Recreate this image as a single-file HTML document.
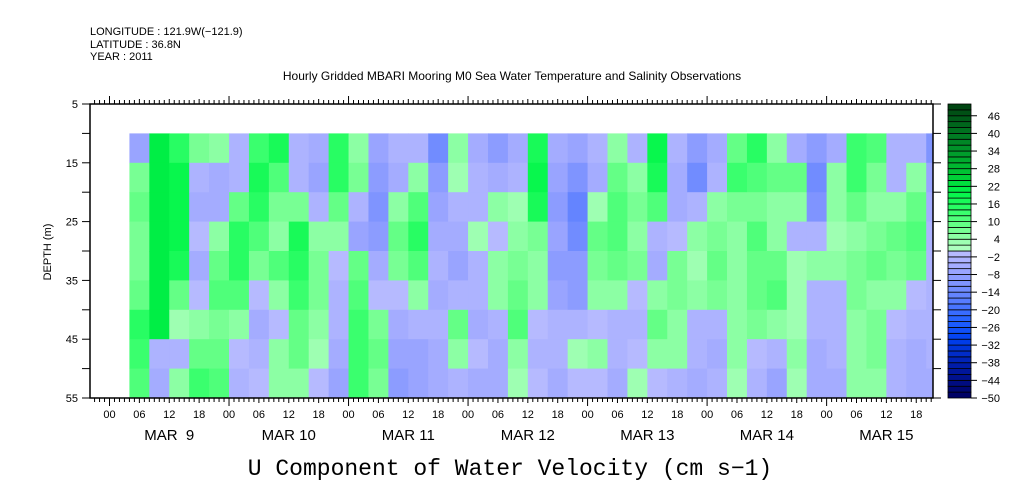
<!DOCTYPE html>
<html><head><meta charset="utf-8"><style>
body{margin:0;background:#fff;}
svg{display:block;font-family:"Liberation Sans",sans-serif;}
</style></head><body>
<svg id="chart" width="1009" height="504" viewBox="0 0 1009 504">
<text x="90" y="35" font-size="11">LONGITUDE : 121.9W(−121.9)</text>
<text x="90" y="48" font-size="11">LATITUDE : 36.8N</text>
<text x="90" y="60" font-size="11">YEAR : 2011</text>
<text x="512" y="80" font-size="12" text-anchor="middle">Hourly Gridded MBARI Mooring M0 Sea Water Temperature and Salinity Observations</text>
<text x="510" y="475" font-size="23" text-anchor="middle" font-family="Liberation Mono, monospace">U Component of Water Velocity (cm s−1)</text>
<text transform="translate(51,252) rotate(-90)" font-size="11" text-anchor="middle">DEPTH (m)</text>
<defs><clipPath id="pc"><rect x="90" y="104" width="843" height="294"/></clipPath></defs>
<g id="cells" clip-path="url(#pc)"></g>
<g id="axes"></g>
<g id="cbar"></g>
</svg>
<script>
const startHours = 4, stepHours = 4;
const depthTops = [10,15,20,25,30,35,40,45,50];
const uValues = [
[-8,6,8,6,6,8,14,12,10],
[20,20,20,20,20,20,20,-4,-6],
[14,18,18,18,16,8,2,-4,4],
[6,-4,-6,-2,-6,-2,4,8,12],
[4,-6,-6,4,8,10,6,8,10],
[-4,-4,8,14,14,10,4,-2,-4],
[12,16,14,10,6,-2,-6,-4,-2],
[16,10,6,4,10,4,-2,4,4],
[-4,-4,6,16,14,12,8,8,4],
[-6,-8,-4,4,6,6,4,2,-2],
[14,14,8,4,-2,-4,-4,-6,-8],
[4,6,-4,-8,8,10,12,12,12],
[-8,-10,-12,-10,-6,-2,6,8,6],
[-4,-6,4,8,6,-2,-6,-8,-10],
[-4,4,10,14,10,4,-4,-8,-8],
[-14,-10,-8,-6,-4,-6,-4,-6,-6],
[4,2,-4,-6,-8,-4,8,4,-4],
[-6,-4,-4,2,-4,-4,-6,-2,-6],
[-10,-6,4,-2,4,4,-4,-6,-6],
[-6,-4,2,4,6,8,10,4,2],
[16,18,16,6,4,4,-2,-4,-2],
[-6,-8,-10,-8,-10,-8,-4,-4,-6],
[-8,-12,-16,-14,-10,-10,-4,2,-2],
[-4,-6,2,8,6,4,-2,4,-2],
[4,8,10,10,8,4,-4,-4,-6],
[-4,4,6,4,6,-2,-4,-2,2],
[18,16,10,-4,-6,4,8,4,-2],
[-4,-6,-6,-2,6,6,4,4,-4],
[-10,-14,-4,4,2,4,-4,-4,-6],
[-6,-4,4,6,8,6,-4,-6,-4],
[8,12,6,4,4,4,4,4,2],
[14,10,6,10,8,8,6,-2,-4],
[4,8,4,4,8,10,4,-4,-8],
[-6,8,4,-4,2,2,2,4,2],
[-10,-14,-12,-4,4,-4,-4,-6,-6],
[-6,4,4,2,4,-4,-4,-4,-6],
[12,12,8,4,6,6,4,4,4],
[10,6,4,6,8,4,6,6,4],
[-4,-4,4,8,6,4,-2,-4,-4],
[-4,4,8,10,8,-2,-4,-6,-6],
[-12,-8,-6,-4,-4,-4,-4,-4,-6]
];
const dayLabels = ["MAR  9","MAR 10","MAR 11","MAR 12","MAR 13","MAR 14","MAR 15"];
const depthTicks = [5,15,25,35,45,55];
const cbarLabels = [46,40,34,28,22,16,10,4,-2,-8,-14,-20,-26,-32,-38,-44,-50];

const NS="http://www.w3.org/2000/svg";
const x = h => 109.5 + h*4.98;
const y = d => 104 + (d-5)*5.88;
const cv = v => 104 + (50-v)*2.94;
const anchors=[[-50,[0,0,96]],[-40,[0,24,160]],[-30,[0,64,240]],[-24,[32,96,255]],[-18,[80,120,255]],[-12,[120,144,255]],[-6,[160,168,255]],[-1,[182,186,255]],[0,[180,255,196]],[4,[150,255,172]],[8,[110,255,140]],[14,[48,255,104]],[20,[0,245,72]],[26,[0,200,52]],[36,[0,140,40]],[50,[0,64,16]]];
function color(v){
  v=Math.floor(v/2)*2+1;
  for(let i=0;i<anchors.length-1;i++){
    const [a,ca]=anchors[i],[b,cb]=anchors[i+1];
    if(v>=a&&v<=b){const t=(v-a)/(b-a);return `rgb(${ca.map((c,j)=>Math.round(c+(cb[j]-c)*t)).join(',')})`;}
  }
  return v<0?'rgb(0,0,96)':'rgb(0,64,16)';
}
function el(tag,attrs,parent){const e=document.createElementNS(NS,tag);for(const k in attrs)e.setAttribute(k,attrs[k]);parent.appendChild(e);return e;}
const cells=document.getElementById('cells');
uValues.forEach((col,k)=>{
  const h0=startHours+k*stepHours;
  col.forEach((v,r)=>{
    const d0=depthTops[r];
    const c=el('rect',{x:x(h0),y:y(d0),width:x(h0+stepHours)-x(h0)+0.5,height:y(d0+5)-y(d0)+0.5,fill:color(v)},cells);
    
    
  });
});
const ax=document.getElementById('axes');
const frame=el('rect',{x:90,y:104,width:843,height:294,fill:'none',stroke:'#000','stroke-width':1.5},ax);


for(let h=-4;h<=165;h++){
  const xx=x(h);if(xx<90||xx>933)continue;
  const len=(h%24===0)?8:((h%6===0)?5:4);
  el('line',{x1:xx,y1:398,x2:xx,y2:398+len,stroke:'#000'},ax);
  el('line',{x1:xx,y1:104,x2:xx,y2:104-len,stroke:'#000'},ax);
  if(h%6===0&&h>=0){
    const hh=((h%24)+24)%24;
    const t=el('text',{x:xx,y:418,'font-size':11,'text-anchor':'middle'},ax);
    t.textContent=String(hh).padStart(2,'0');
    
    
  }
}
dayLabels.forEach((l,i)=>{
  const t=el('text',{x:x(i*24+12),y:440,'font-size':15,'text-anchor':'middle','xml:space':'preserve'},ax);
  t.style.whiteSpace='pre';
  t.textContent=l;
  
  
});
depthTicks.forEach(d=>{
  el('line',{x1:82,y1:y(d),x2:90,y2:y(d),stroke:'#000'},ax);
  el('line',{x1:933,y1:y(d),x2:941,y2:y(d),stroke:'#000'},ax);
  if(d<55){el('line',{x1:82,y1:y(d+5),x2:90,y2:y(d+5),stroke:'#000'},ax);el('line',{x1:933,y1:y(d+5),x2:941,y2:y(d+5),stroke:'#000'},ax);}
  const t=el('text',{x:78,y:y(d)+4,'font-size':11,'text-anchor':'end'},ax);
  t.textContent=d;
  
  
});
const cb=document.getElementById('cbar');
for(let v=-50;v<50;v+=2){
  const r=el('rect',{x:948,y:cv(v+2),width:23,height:5.88,fill:color(v),stroke:'#000','stroke-width':0.8},cb);
  
  
}
cbarLabels.forEach(v=>{
  el('line',{x1:971,y1:cv(v),x2:977,y2:cv(v),stroke:'#000'},cb);
  const t=el('text',{x:1000,y:cv(v)+4,'font-size':11,'text-anchor':'end'},cb);
  t.textContent=v<0?'−'+(-v):v;
  
  
});
</script>
</body></html>
